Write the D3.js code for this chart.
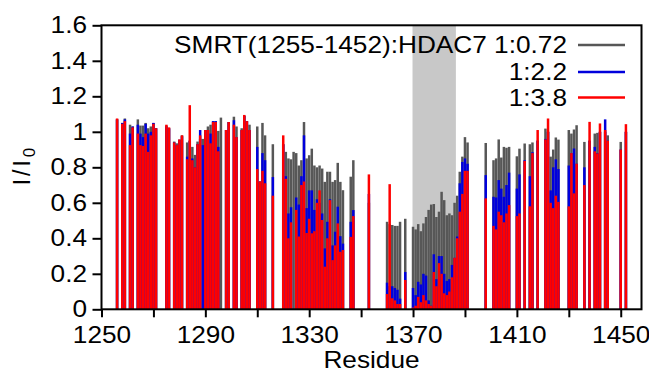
<!DOCTYPE html>
<html>
<head>
<meta charset="utf-8">
<script src="https://cdn.jsdelivr.net/npm/d3@7"></script>
<style>
    body { margin: 0; background: #fff; }
    svg text { font-family: "Liberation Sans", Arial, sans-serif; fill: #000; }
</style>
</head>
<body>
<div class="container"></div>
<script>
const WIDTH = 649;
const HEIGHT = 376;
const LEFT = 101.5;
const RIGHT = 641.5;
const TOP = 25.3;
const BOTTOM = 309.3;
const STRETCH = 1.14;
const FONT = 23;

// residue numbers and I/I0 at the three ratios (null = not measured)
var residues = [1256, 1258, 1259, 1261, 1262, 1264, 1265, 1266, 1267, 1268, 1269, 1270, 1271,
    1275, 1276, 1278, 1279, 1280, 1281, 1283, 1284, 1285, 1286, 1287, 1288, 1289, 1290,
    1291, 1292, 1293, 1294, 1295, 1296, 1298, 1299, 1301, 1302, 1304, 1305, 1306, 1307,
    1310, 1311, 1312, 1313, 1316, 1320, 1321, 1322, 1323, 1324, 1325, 1326, 1327, 1328,
    1329, 1330, 1331, 1332, 1333, 1334, 1335, 1336, 1337, 1338, 1339, 1340, 1341, 1342,
    1343, 1346, 1347, 1353, 1360, 1361, 1362, 1363, 1364, 1365, 1367, 1370, 1371, 1372,
    1373, 1374, 1375, 1376, 1377, 1378, 1379, 1380, 1381, 1382, 1383, 1384, 1385, 1386,
    1387, 1388, 1389, 1390, 1391, 1398, 1401, 1402, 1403, 1404, 1405, 1406, 1407, 1410,
    1411, 1413, 1415, 1416, 1418, 1421, 1422, 1423, 1424, 1425, 1426, 1430, 1431, 1432,
    1433, 1436, 1438, 1440, 1441, 1442, 1444, 1445, 1450, 1452];

var ratio072 = [1.07, 1.05, 1.075, 1.04, 1.03, 1.07, 1.035, 1.035, 1.05, 1.02, 1.03, 1.05, 1.02,
    1.035, 1.02, 0.945, 0.935, 0.955, 0.98, 0.94, 0.95, 0.915, 0.87, 0.945, 0.96, 0.96, 1.01,
    1.03, 1.04, 1.06, 1.06, 1.005, 1.08, 1.01, 1.055, 1.085, 1.03, 1.02, 1.09, 1.06, 1.04,
    1.03, 0.72, 1.05, 0.98, 0.93, 0.93, 0.887, 0.85, 0.845, 0.887, 0.88, 0.81, 0.84, 1.055,
    0.85, 0.868, 0.905, 0.81, 0.80, 0.81, 0.793, 0.718, 0.775, 0.775, 0.718, 0.728, 0.825, 0.718,
    0.671, 0.747, 0.84, 0.60, 0.493, 0.48, 0.475, 0.47, 0.47, 0.493, 0.51, 0.465, 0.45, 0.48,
    0.44, 0.484, 0.52, 0.56, 0.59, 0.593, 0.52, 0.55, 0.662, 0.615, 0.53, 0.54, 0.53, 0.60,
    0.64, 0.775, 0.86, 0.97, 0.94, 0.937, 0.84, 0.85, 0.957, 0.855, 0.915, 0.91, 0.915, 0.862,
    0.905, 0.934, 0.93, 0.94, 0.95, 1.018, 1.0, 0.86, 0.90, 0.968, 0.956, 1.01, 0.99, 1.013,
    1.037, 0.943, 0.95, 0.99, 0.994, 1.0, 1.0, 0.98, 0.943, 1.0];

var ratio22 = [1.07, 1.05, 1.07, 0.99, 1.03, 1.04, 0.99, 0.97, 1.045, 0.99, 1.0, 1.05, 1.02,
    1.03, 1.02, 0.94, 0.925, 0.955, 0.975, 0.86, 0.95, 0.85, 0.80, 0.93, 1.01, 0.925, 1.01,
    1.01, 0.99, 1.06, 1.06, 0.915, null, 1.01, 1.055, 1.065, 0.97, 1.01, 1.09, 1.06, 1.01,
    0.915, 0.72, 0.88, 0.84, 0.745, 0.93, 0.75, 0.54, 0.575, null, 0.63, 0.59, 0.75, 0.98,
    0.57, 0.67, 0.67, 0.56, 0.62, 0.60, 0.54, 0.343, 0.493, 0.62, 0.36, 0.437, 0.578, 0.412,
    0.37, 0.493, 0.559, 0.65, 0.15, 0.13, 0.13, 0.12, 0.11, 0.06, 0.21, 0.12, 0.08, 0.155,
    0.14, 0.20, 0.19, 0.05, 0.02, 0.31, 0.17, 0.30, 0.30, 0.20, 0.16, 0.17, 0.25, 0.29,
    0.41, 0.71, 0.83, 0.85, 0.82, 0.756, 0.634, 0.63, 0.728, 0.68, 0.634, 0.70, 0.77, 0.68,
    0.76, 0.84, 0.75, 0.885, 0.95, 0.96, 1.0, 0.67, 0.80, 0.845, 0.79, 0.81, 0.88, 0.906,
    0.82, 0.80, 0.95, 0.915, 0.88, 1.0, 1.07, 0.95, 0.90, 1.0];

var ratio38 = [1.075, 1.045, 1.06, 0.925, 1.025, 0.99, 0.925, 0.92, 0.99, 0.887, 0.98, 1.045, 1.02,
    1.04, 1.025, 0.94, 0.925, 0.957, 0.98, 0.845, 1.15, 0.84, 0.80, 0.93, 0.98, null, 1.01,
    1.01, 0.935, 1.055, 1.055, 0.89, null, 1.01, 1.055, 1.04, 0.97, 1.01, 1.095, 1.06, 1.01,
    0.79, 0.72, 0.78, 0.71, 0.64, 0.98, 0.735, 0.40, 0.49, null, 0.56, 0.41, 0.70, 0.72,
    0.43, 0.51, 0.428, 0.44, 0.60, 0.67, 0.503, 0.24, 0.40, 0.615, 0.277, 0.36, 0.484, 0.324,
    0.334, 0.408, 0.525, 0.76, 0.086, 0.705, 0.062, 0.05, 0.03, 0.03, 0.165, 0.01, 0.02, 0.07,
    0.04, 0.08, 0.05, 0.03, 0.02, 0.21, 0.13, 0.26, 0.20, 0.09, 0.08, 0.10, 0.18, 0.29,
    0.40, 0.55, 0.65, 0.78, 0.78, 0.625, 0.47, 0.45, 0.55, 0.53, 0.49, 0.54, 0.587, 0.525,
    0.54, 0.836, 0.58, 0.88, 1.01, 0.957, 1.075, 0.60, 0.57, 0.64, 0.605, 0.58, 0.88, 0.653,
    0.82, 0.70, 1.056, 0.89, 0.878, 1.047, 1.01, 0.95, 0.90, 1.043];

var xTicks = [1250, 1270, 1290, 1310, 1330, 1350, 1370, 1390, 1410, 1430, 1450];
var yTicks = [0, 0.2, 0.4, 0.6, 0.8, 1, 1.2, 1.4, 1.6];
var shadedRange = [1369.8, 1386.5];

var series = [
    {name: 'SMRT(1255-1452):HDAC7 1:0.72', values: ratio072, color: '#575757'},
    {name: '1:2.2', values: ratio22, color: '#0000dc'},
    {name: '1:3.8', values: ratio38, color: '#ff0000'}
];

var _xScale = d3.scaleLinear().domain([1250, 1458]).range([LEFT, RIGHT]);
var _yScale = d3.scaleLinear().domain([0, 1.6]).range([BOTTOM, TOP]);

var _svg = d3.select('.container').append('svg').attr('width', WIDTH).attr('height', HEIGHT);

var step = _xScale(1251) - _xScale(1250);

// shaded residue block
_svg.append('rect')
    .attr('x', _xScale(shadedRange[0]))
    .attr('y', TOP)
    .attr('width', _xScale(shadedRange[1]) - _xScale(shadedRange[0]))
    .attr('height', BOTTOM - TOP)
    .attr('fill', '#c8c8c8');

series.forEach(function (s) {
    var pts = residues.map(function (r, i) { return {res: r, v: s.values[i]}; })
        .filter(function (d) { return d.v !== null; });
    _svg.append('g').selectAll('rect')
        .data(pts)
        .enter().append('rect')
        .attr('x', function (d) { return _xScale(d.res) - step / 2 + 0.05; })
        .attr('width', step - 0.1)
        .attr('y', function (d) { return _yScale(d.v); })
        .attr('height', function (d) { return BOTTOM - _yScale(d.v); })
        .attr('fill', s.color);
});

var xAxis = d3.axisBottom(_xScale)
    .tickValues(xTicks)
    .tickSize(8)
    .tickPadding(9)
    .tickFormat(function (d) { return (d - 1250) % 40 === 0 ? d : ''; });

var yAxis = d3.axisLeft(_yScale)
    .tickValues(yTicks)
    .tickSize(9)
    .tickPadding(5)
    .tickFormat(function (d) { return String(+d.toFixed(1)); });

var gx = _svg.append('g').attr('transform', 'translate(0,' + BOTTOM + ')').call(xAxis);
var gy = _svg.append('g').attr('transform', 'translate(' + LEFT + ',0)').call(yAxis);

[gx, gy].forEach(function (g) {
    g.selectAll('path').remove();
    g.selectAll('line').attr('stroke', '#000').attr('stroke-width', 2);
    g.selectAll('text').attr('font-size', FONT).attr('fill', '#000')
        .attr('font-family', '"Liberation Sans", Arial, sans-serif')
        .attr('transform', 'scale(' + STRETCH + ',1)');
});
gy.selectAll('text').attr('x', -14.5 / STRETCH);

// plot frame
_svg.append('rect')
    .attr('x', LEFT).attr('y', TOP)
    .attr('width', RIGHT - LEFT).attr('height', BOTTOM - TOP)
    .attr('fill', 'none').attr('stroke', '#000').attr('stroke-width', 2);

// legend
var legend = _svg.append('g');
series.forEach(function (s, i) {
    var cy = [45, 72, 97.5][i];
    legend.append('text')
        .attr('transform', 'translate(567,' + (cy + 8) + ') scale(' + STRETCH + ',1)')
        .attr('text-anchor', 'end')
        .attr('font-size', FONT)
        .text(s.name);
    legend.append('line')
        .attr('x1', 578).attr('x2', 625)
        .attr('y1', cy).attr('y2', cy)
        .attr('stroke', s.color).attr('stroke-width', 2.4);
});

// axis titles
_svg.append('text')
    .attr('x', (LEFT + RIGHT) / 2).attr('y', 368)
    .attr('text-anchor', 'middle')
    .attr('font-size', FONT)
    .attr('transform', 'translate(' + (-(STRETCH - 1) * (LEFT + RIGHT) / 2) + ',0) scale(' + STRETCH + ',1)')
    .text('Residue');

var yTitle = _svg.append('text')
    .attr('transform', 'translate(30,165) rotate(-90)')
    .attr('text-anchor', 'middle')
    .attr('font-size', 23)
    .attr('letter-spacing', 3);
yTitle.append('tspan').text('I/I');
yTitle.append('tspan').attr('font-size', 17).attr('dy', 5).text('0');
</script>
</body>
</html>
